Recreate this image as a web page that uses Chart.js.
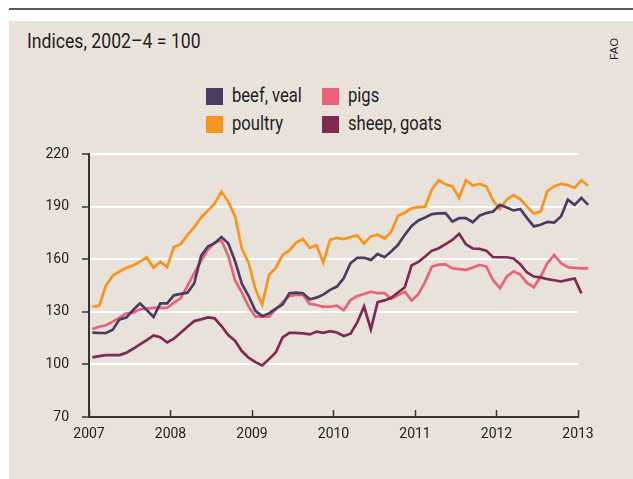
<!DOCTYPE html>
<html>
<head>
<meta charset="utf-8">
<script src="https://cdn.jsdelivr.net/npm/chart.js@4/dist/chart.umd.min.js"></script>
<style>
  html, body { margin: 0; padding: 0; background: #fff; }
  body {
    width: 633px; height: 479px; position: relative; overflow: hidden;
    font-family: Roboto, "Liberation Sans", sans-serif;
    color: #1e1e1e;
  }
  #rule { position: absolute; left: 9px; top: 8px; width: 624px; height: 2px; background: #5a5a5a; }
  #panel { position: absolute; left: 9px; top: 21px; width: 624px; height: 458px; background: #e9e2db; }
  #title {
    position: absolute; left: 27px; top: 31px; font-size: 21px; line-height: 21px; white-space: nowrap;
    transform: scaleX(0.84); transform-origin: 0 0;
  }
  #source {
    position: absolute; left: 614px; top: 49px; font-family: "Liberation Sans", Arial, sans-serif;
    font-size: 11px; line-height: 11px; transform: translate(-50%, -50%) rotate(-90deg); white-space: nowrap;
  }
  .key { position: absolute; height: 20px; line-height: 20px; font-size: 20px; white-space: nowrap; }
  .key i { position: absolute; left: 0; top: 1.5px; width: 17px; height: 17px; }
  .key span { position: absolute; left: 26px; top: -1px; transform: scaleX(0.83); transform-origin: 0 0; }
  canvas { position: absolute; left: 0; top: 0; }
</style>
</head>
<body>
<div id="rule"></div>
<div id="panel"></div>
<div id="title">Indices, 2002–4 = 100</div>
<div id="source">FAO</div>
<div id="legend"></div>
<canvas id="meatChart" width="633" height="479"></canvas>

<script>
// monthly index values, Jan 2007 onwards (sheep ends a month earlier)
const startYear = 2007;
const years = [2007, 2008, 2009, 2010, 2011, 2012, 2013];
const yTicks = [70, 100, 130, 160, 190, 220];

const seriesNames = ['beef, veal', 'poultry', 'pigs', 'sheep, goats'];
const seriesColors = ['#4b3c63', '#f7941d', '#e8637a', '#7e2a51'];

const beef = [
  118.1, 117.9, 117.9, 119.8, 125.7, 126.7, 131, 134.8, 131, 127, 134.8, 134.8,
  139.4, 140.2, 140.9, 146.3, 161.9, 167.2, 169.1, 172.6, 169.1, 159, 146, 139,
  130.5, 127.5, 129.1, 131.8, 134.1, 140.6, 140.9, 140.6, 137.1, 138.1, 139.8, 142.5,
  144.4, 149.1, 157.7, 160.8, 160.8, 159.6, 163, 161.1, 164.4, 168.2, 173.9, 179,
  182.1, 183.8, 185.7, 186.1, 186.3, 181.5, 183.4, 183.4, 181.1, 184.8, 186.3, 187.2,
  191, 189.5, 187.8, 188.6, 183.4, 178.7, 179.6, 181.3, 180.9, 184.4, 194, 191, 195, 191
];
const poultry = [
  133, 133.5, 145, 150.5, 153, 155.1, 156.4, 158.6, 161, 155, 158.5, 155.5,
  166.9, 168.6, 173.9, 178.3, 183.8, 187.7, 191.7, 198.5, 193, 184.6, 166, 158,
  143, 134, 151, 155, 162.5, 165, 169.5, 171.5, 166.5, 168, 158, 171,
  172.2, 171.4, 172.6, 173.5, 169, 173, 174, 171.8, 175.6, 184.8, 186.5, 189,
  189.7, 190, 200, 205, 202.7, 201.5, 195, 205, 202, 203, 201.5, 193.5,
  188.6, 193.9, 196.6, 194.3, 190, 185.9, 187.2, 198.9, 201.5, 203, 202.3, 200.8, 205, 201.9
];
const pigs = [
  120.2, 121.5, 122.3, 124.4, 126.7, 129.1, 129.5, 131.4, 131.8, 132.2, 132.2, 132.2,
  135.2, 137.7, 144.8, 152, 159.1, 165.3, 169.5, 170.5, 162, 148, 141, 133,
  127.2, 127.2, 127.2, 131.4, 135.5, 139, 139.6, 139.6, 134.5, 133.9, 132.8, 132.9,
  133.5, 131, 136.7, 139, 140.2, 141.5, 140.6, 140.6, 137.5, 139.4, 141.5, 136.5,
  140, 147.2, 155.8, 156.9, 157.1, 154.8, 154.3, 153.9, 155.2, 156.8, 155.8, 148,
  143.5, 150, 153.1, 151.2, 146.5, 144, 150.1, 157.7, 162.5, 157.7, 155.4, 155, 154.8, 154.8
];
const sheep = [
  104, 104.7, 105.3, 105.3, 105.3, 106.7, 108.9, 111.4, 113.9, 116.5, 115.5, 112.5,
  114.7, 118, 121.5, 124.7, 125.7, 126.8, 126.3, 121.9, 116.7, 113.5, 107.6, 103.8,
  101.3, 99.4, 103, 106.8, 115.4, 118, 118, 117.7, 117.1, 118.7, 118, 119,
  118.2, 116.2, 117.5, 124, 133, 120, 135.5, 136.5, 138, 141, 144, 156.5,
  158.5, 161.5, 164.9, 166.3, 168.6, 171, 174.5, 168.5, 166.1, 165.9, 164.9, 161.1,
  161.1, 161.1, 160.4, 157.1, 152.4, 150.1, 149.6, 148.6, 148, 147.3, 148.2, 149, 140.5
];
const seriesValues = [beef, poultry, pigs, sheep];

const FONT = 'Roboto, "Liberation Sans", sans-serif';
const INK = '#1e1e1e';

// legend: two columns, two rows
const legendSlots = [[206, 86], [206, 114], [322, 86], [322, 114]];
const legendEl = document.getElementById('legend');
seriesNames.forEach((name, k) => {
  const d = document.createElement('div');
  d.className = 'key';
  d.style.left = legendSlots[k][0] + 'px';
  d.style.top = legendSlots[k][1] + 'px';
  d.innerHTML = `<i style="background:${seriesColors[k]}"></i><span>${name}</span>`;
  legendEl.appendChild(d);
});

const toPoints = vals => vals.map((v, i) => ({ x: startYear + (i + 0.5) / 12, y: v }));

// first dataset is painted last, so beef sits on top
const drawOrder = [0, 1, 3, 2];
const datasets = drawOrder.map(s => ({
  label: seriesNames[s],
  data: toPoints(seriesValues[s]),
  borderColor: seriesColors[s],
  backgroundColor: seriesColors[s],
  borderWidth: 2.7,
  pointRadius: 0,
  tension: 0,
  fill: false,
  clip: false,
}));

new Chart(document.getElementById('meatChart'), {
  type: 'line',
  data: { datasets },
  options: {
    responsive: false,
    animation: false,
    events: [],
    layout: { padding: { left: 0, top: 154, right: 55, bottom: 32 } },
    plugins: { legend: { display: false }, tooltip: { enabled: false } },
    scales: {
      x: {
        type: 'linear',
        // range set after data limits so the last months past 2013 are still drawn
        afterDataLimits: s => { s.min = years[0]; s.max = years[years.length - 1]; },
        afterBuildTicks: s => { s.ticks = years.map(v => ({ value: v })); },
        afterFit: s => { s.height = 30; },
        ticks: {
          autoSkip: false, maxRotation: 0, padding: 16,
          color: INK, font: { family: FONT, size: 14 },
          callback: v => String(v),
        },
        grid: { drawOnChartArea: false, drawTicks: true, tickLength: -7, tickColor: '#333', tickWidth: 1.5 },
        border: { display: true, color: '#333', width: 2 },
      },
      y: {
        min: yTicks[0],
        max: yTicks[yTicks.length - 1],
        afterBuildTicks: s => { s.ticks = yTicks.map(v => ({ value: v })); },
        afterFit: s => { s.width = 89; },
        ticks: { padding: 13, color: INK, font: { family: FONT, size: 14 } },
        grid: {
          color: c => (c.tick && c.tick.value === yTicks[0] ? 'rgba(0,0,0,0)' : '#ffffff'),
          lineWidth: 2,
          drawTicks: true,
          tickLength: 7,
          tickColor: '#333',
          tickWidth: 1.5,
        },
        border: { display: true, color: '#333', width: 2 },
      },
    },
  },
});
</script>
</body>
</html>
